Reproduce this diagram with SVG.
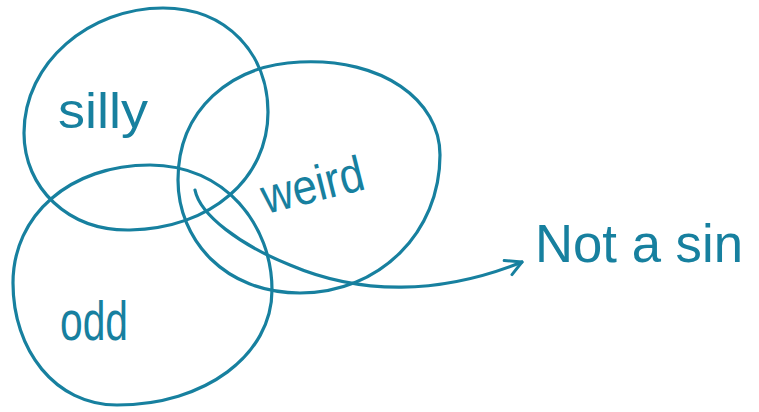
<svg xmlns="http://www.w3.org/2000/svg" width="759" height="412" viewBox="0 0 759 412">
<style>
.c{fill:none;stroke:#17809f;stroke-width:3.2;stroke-linecap:round;stroke-linejoin:round}
.t{fill:#17809f;font-family:"Liberation Sans","DejaVu Sans",sans-serif}
</style>
<defs>
<marker id="ah" viewBox="0 0 20 20" refX="18" refY="10" markerWidth="20" markerHeight="20" markerUnits="userSpaceOnUse" orient="auto">
<path d="M2,2 L18,10 L4,18" fill="none" stroke="#17809f" stroke-width="3" stroke-linecap="round" stroke-linejoin="round"/>
</marker>
</defs>
<rect width="759" height="412" fill="#fff"/>
<g id="silly">
<path class="c" d="M163,8 C228,8 268,55 268,112 C268,178 212,228 130,230 C68,231 24,188 24,133 C24,62 90,8 163,8 Z"/>
<text class="t" x="58" y="128" font-size="50" textLength="90" lengthAdjust="spacingAndGlyphs">silly</text>
</g>
<g id="weird">
<path class="c" d="M300,62 C382,58 440,100 440,155 C440,232 380,293 300,293 C225,293 178,240 178,180 C178,110 230,65 300,62 Z"/>
<text class="t" x="266" y="214" font-size="50" textLength="104" lengthAdjust="spacingAndGlyphs" transform="rotate(-14 266 214)">weird</text>
</g>
<g id="odd">
<path class="c" d="M150,165 C225,165 272,225 272,290 C272,355 205,405 117,405 C55,405 13,350 13,283 C13,215 70,165 150,165 Z"/>
<text class="t" x="60" y="340" font-size="56" textLength="68" lengthAdjust="spacingAndGlyphs">odd</text>
</g>
<g id="not-a-sin">
<text class="t" x="535" y="262" font-size="54" textLength="208" lengthAdjust="spacingAndGlyphs">Not a sin</text>
</g>
<g id="connectors">
<path class="c" d="M195,190 C200,215 240,245 290,265 C360,295 440,295 522,262" marker-end="url(#ah)"/>
</g>
</svg>
